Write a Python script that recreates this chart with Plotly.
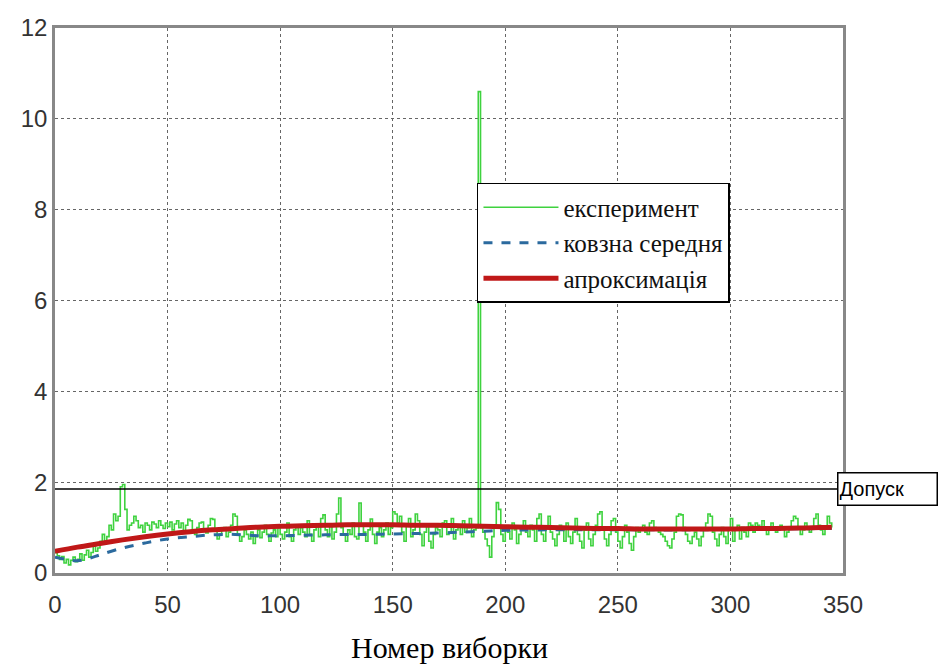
import plotly.graph_objects as go

# experiment (green), sample index 0..345
experiment = [
    0.45, 0.38, 0.30, 0.36, 0.22, 0.30, 0.18, 0.28, 0.35, 0.25,
    0.30, 0.42, 0.28, 0.40, 0.50, 0.35, 0.45, 0.62, 0.48, 0.55,
    0.70, 0.85, 0.65, 0.80, 1.05, 0.95, 1.30, 1.15, 1.25, 1.90,
    1.95, 1.40, 0.95, 1.05, 1.10, 1.25, 1.15, 1.00, 1.05, 0.90,
    1.10, 1.05, 0.95, 1.12, 1.08, 1.00, 1.15, 1.05, 0.98, 1.10,
    1.02, 1.12, 0.95, 1.08, 1.15, 1.00, 1.10, 0.92, 1.05, 1.18,
    1.15, 0.90, 0.85, 1.00, 1.10, 1.12, 0.95, 0.88, 1.05, 1.20,
    1.18, 0.92, 0.75, 0.85, 0.95, 1.00, 0.80, 0.90, 1.05, 1.30,
    1.25, 0.85, 0.70, 0.80, 0.95, 0.85, 0.75, 0.90, 0.65, 0.80,
    0.95, 0.78, 0.90, 1.05, 0.85, 0.70, 0.88, 0.95, 0.80, 1.00,
    0.85, 0.75, 0.90, 1.10, 0.80, 0.70, 0.95, 1.05, 0.85, 1.00,
    0.90, 0.80, 1.15, 0.85, 0.70, 0.95, 1.05, 0.80, 1.20, 1.28,
    0.95, 0.80, 1.05, 0.75, 0.90, 1.30, 1.65, 1.00, 0.85, 0.70,
    0.95, 0.85, 1.10, 0.80, 0.75, 1.54, 1.05, 0.90, 0.70, 0.95,
    1.19, 0.85, 0.65, 0.90, 1.00, 0.80, 0.95, 1.10, 0.85, 1.00,
    1.35, 1.30, 1.10, 1.25, 0.90, 0.70, 1.05, 1.20, 0.80, 0.95,
    1.30, 1.15, 0.85, 0.60, 0.90, 1.05, 0.70, 0.55, 0.85, 1.00,
    0.95, 0.80, 1.10, 1.15, 0.85, 0.90, 1.20, 0.75, 0.95, 1.05,
    0.85, 1.15, 0.90, 1.00, 1.20, 0.80, 0.95, 1.00, 10.6, 1.00,
    0.90, 0.75, 0.60, 0.35, 0.80, 1.00, 1.55, 1.40, 0.85, 0.70,
    1.00, 0.90, 0.75, 1.10, 0.95, 0.65, 0.85, 1.00, 1.15, 0.90,
    0.80, 1.05, 0.95, 0.70, 1.20, 1.30, 0.85, 0.70, 1.00, 1.25,
    0.90, 0.75, 0.60, 0.85, 1.05, 0.95, 0.70, 1.10, 0.80, 0.65,
    0.90, 1.20, 0.85, 0.70, 0.55, 0.95, 1.10, 0.75, 0.60, 0.85,
    1.05, 1.30, 1.35, 0.95, 0.75, 0.60, 0.85, 1.15, 1.20, 0.90,
    0.70, 0.55, 0.80, 1.05, 0.90, 0.65, 0.50, 0.80, 1.00, 0.90,
    0.95, 1.05, 0.90, 0.85, 1.10, 1.15, 1.00, 0.95, 0.90, 0.85,
    0.80, 0.70, 0.60, 0.55, 0.75, 0.90, 1.25, 1.30, 1.28, 1.00,
    0.85, 0.70, 0.65, 0.80, 0.90, 0.75, 0.60, 0.80, 0.95, 1.10,
    1.30, 1.25, 0.90, 0.75, 0.60, 0.85, 1.00, 0.80, 0.65, 0.95,
    1.20, 0.70, 0.95, 1.05, 0.75, 1.00, 0.90, 0.80, 1.10, 1.05,
    0.90, 1.10, 1.05, 0.95, 1.15, 1.00, 0.85, 0.95, 1.10, 1.00,
    0.90, 0.95, 1.05, 1.00, 0.80, 0.90, 1.00, 1.15, 1.25, 1.20,
    1.00, 0.85, 0.95, 1.10, 1.00, 0.90, 1.00, 1.20, 1.30, 1.05,
    0.95, 0.85, 1.00, 1.25, 1.10, 1.00,
]
exp_x = list(range(len(experiment)))

# moving average (blue dashed)
ma_x = [0, 5, 10, 15, 20, 30, 40, 50, 60, 70, 80, 90, 100, 110, 120, 130, 140,
        150, 160, 170, 180, 190, 200, 220, 240, 260, 280, 300, 320, 345]
ma_y = [0.35, 0.30, 0.27, 0.32, 0.40, 0.55, 0.66, 0.75, 0.80, 0.84, 0.85, 0.82,
        0.82, 0.83, 0.84, 0.85, 0.85, 0.86, 0.87, 0.88, 0.90, 0.92, 0.94, 0.95,
        0.95, 0.95, 0.95, 0.96, 0.97, 0.98]

# approximation (red)
ap_x = [0, 10, 20, 30, 40, 50, 60, 70, 80, 90, 100, 110, 120, 130, 140, 150,
        160, 170, 180, 190, 200, 210, 220, 230, 240, 250, 260, 270, 280, 290,
        300, 310, 320, 330, 340, 345]
ap_y = [0.48, 0.57, 0.65, 0.73, 0.80, 0.86, 0.91, 0.95, 0.98, 1.01, 1.03, 1.04,
        1.05, 1.06, 1.06, 1.06, 1.05, 1.05, 1.04, 1.03, 1.02, 1.01, 1.00, 0.99,
        0.98, 0.98, 0.97, 0.97, 0.97, 0.97, 0.97, 0.98, 0.98, 0.99, 1.00, 1.01]

tolerance = 1.85
x_ticks = [0, 50, 100, 150, 200, 250, 300, 350]
y_ticks = [0, 2, 4, 6, 8, 10, 12]

SERIF = "Liberation Serif"
SANS = "Liberation Sans"

fig = go.Figure()
fig.add_trace(go.Scatter(x=exp_x, y=experiment, mode="lines", name="експеримент",
                         line=dict(color="#3fd23f", width=1.6, shape="hv")))
fig.add_trace(go.Scatter(x=ma_x, y=ma_y, mode="lines", name="ковзна середня",
                         line=dict(color="#2b6a9e", width=3, dash="dash", shape="spline")))
fig.add_trace(go.Scatter(x=ap_x, y=ap_y, mode="lines", name="апроксимація",
                         line=dict(color="#c01818", width=5, shape="spline")))

fig.add_shape(type="line", xref="x", yref="y", x0=0, x1=350, y0=tolerance, y1=tolerance,
              line=dict(color="black", width=1.5))

fig.add_annotation(xref="paper", yref="y", x=0.9924, y=tolerance, xanchor="left",
                   yanchor="middle", text="Допуск", showarrow=False,
                   font=dict(family=SANS, size=20, color="black"),
                   bordercolor="black", borderwidth=1.5, bgcolor="white",
                   width=96, height=29, align="left")

fig.add_annotation(xref="paper", yref="paper", x=0.5, y=-0.1376, xanchor="center",
                   yanchor="middle", text="Номер виборки", showarrow=False,
                   font=dict(family=SERIF, size=30, color="black"))

axis_common = dict(showline=True, linecolor="#888888", linewidth=2.5, mirror=True,
                   showgrid=True, gridcolor="#666666", griddash="dot", gridwidth=1,
                   zeroline=False, ticks="",
                   tickfont=dict(family=SANS, size=24, color="#333333"))

fig.update_layout(
    width=939, height=666,
    margin=dict(l=55, r=96, t=28, b=93),
    paper_bgcolor="white", plot_bgcolor="white",
    xaxis=dict(range=[0, 350], tickvals=x_ticks, ticklabelstandoff=8, **axis_common),
    yaxis=dict(range=[0, 12], tickvals=y_ticks, **axis_common),
    legend=dict(x=0.5355, y=0.7156, xanchor="left", yanchor="top",
                bgcolor="white", bordercolor="black", borderwidth=1.5,
                font=dict(family=SERIF, size=25, color="#111111"),
                itemwidth=75, tracegroupgap=0),
    showlegend=True,
)

fig.write_html("out.html")
